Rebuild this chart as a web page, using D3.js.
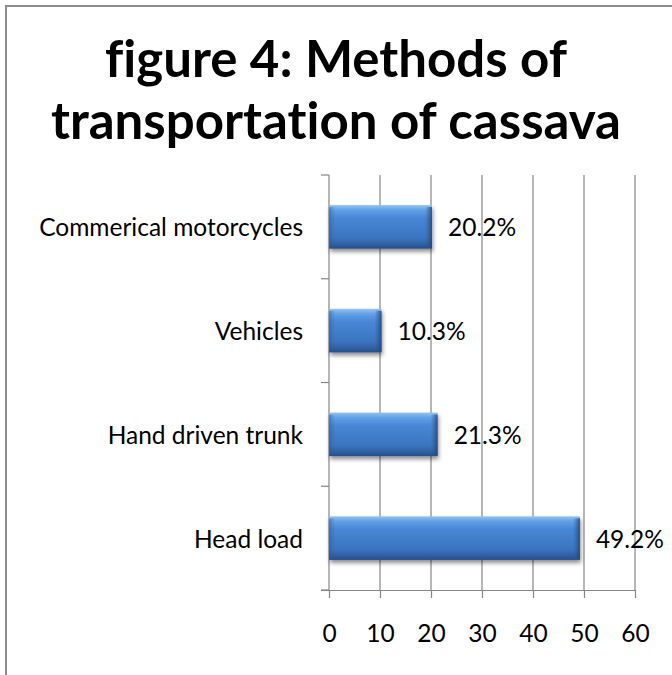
<!DOCTYPE html>
<html>
<head>
<meta charset="utf-8">
<script src="https://cdn.jsdelivr.net/npm/d3@7"></script>
<style>
  html, body { margin: 0; padding: 0; background: #fff; }
  svg { display: block; }
  text { font-family: Lato, "Open Sans", sans-serif; fill: #000; font-variant-ligatures: none; font-feature-settings: "liga" 0, "clig" 0; }
</style>
</head>
<body>
<svg id="chart" width="672" height="675"></svg>
<script>
// ---- data ----
const categories = ["Commerical motorcycles", "Vehicles", "Hand driven trunk", "Head load"];
const values = [20.2, 10.3, 21.3, 49.2];
const valueLabels = ["20.2%", "10.3%", "21.3%", "49.2%"];
const xTicks = [0, 10, 20, 30, 40, 50, 60];
const titleLines = ["figure 4: Methods of", "transportation of cassava"];

const svg = d3.select("#chart");
const W = 672, H = 675;
const plot = { left: 329, right: 635, top: 175, bottom: 590 };
const labelSize = "24.5px";

// defs
const defs = svg.append("defs");
const gV = defs.append("linearGradient").attr("id", "barV").attr("x1", 0).attr("y1", 0).attr("x2", 0).attr("y2", 1);
gV.append("stop").attr("offset", "0%").attr("stop-color", "#93c4f4");
gV.append("stop").attr("offset", "12%").attr("stop-color", "#609fe6");
gV.append("stop").attr("offset", "30%").attr("stop-color", "#4886d4");
gV.append("stop").attr("offset", "75%").attr("stop-color", "#3b75c0");
gV.append("stop").attr("offset", "90%").attr("stop-color", "#2f61a2");
gV.append("stop").attr("offset", "100%").attr("stop-color", "#244e87");
const gE = defs.append("linearGradient").attr("id", "barEnd").attr("x1", 0).attr("y1", 0).attr("x2", 1).attr("y2", 0);
gE.append("stop").attr("offset", "0%").attr("stop-color", "#2c5a96").attr("stop-opacity", 0);
gE.append("stop").attr("offset", "100%").attr("stop-color", "#1f4678").attr("stop-opacity", 0.85);
const gL = defs.append("linearGradient").attr("id", "barStart").attr("x1", 0).attr("y1", 0).attr("x2", 1).attr("y2", 0);
gL.append("stop").attr("offset", "0%").attr("stop-color", "#2c5a96").attr("stop-opacity", 0.5);
gL.append("stop").attr("offset", "100%").attr("stop-color", "#2c5a96").attr("stop-opacity", 0);
const sh = defs.append("filter").attr("id", "shadow").attr("x", "-10%").attr("y", "-20%").attr("width", "130%").attr("height", "160%");
sh.append("feDropShadow").attr("dx", 1).attr("dy", 3).attr("stdDeviation", 2.2).attr("flood-color", "#000").attr("flood-opacity", 0.45);

// frame border (left & top visible)
svg.append("line").attr("x1", 6).attr("x2", 6).attr("y1", 5).attr("y2", H).attr("stroke", "#8c8c8c").attr("stroke-width", 2);
svg.append("line").attr("x1", 5).attr("x2", W).attr("y1", 6).attr("y2", 6).attr("stroke", "#8c8c8c").attr("stroke-width", 2);

// title
const title = svg.append("text").attr("text-anchor", "middle").style("font-weight", "bold").style("font-size", "51px");
title.selectAll("tspan").data(titleLines).join("tspan")
  .attr("x", 336).attr("y", (d, i) => 77 + i * 62).text(d => d);

// scales
const x = d3.scaleLinear().domain([0, 60]).range([plot.left, plot.right]);
const y = d3.scaleBand().domain(categories).range([plot.top, plot.bottom]).paddingInner(0.58).paddingOuter(0.29);
const band = d3.scaleBand().domain(categories).range([plot.top, plot.bottom]);

const gridColor = "#868686";
// vertical gridlines
svg.append("g").selectAll("line").data(xTicks.slice(1)).join("line")
  .attr("x1", d => x(d)).attr("x2", d => x(d)).attr("y1", plot.top).attr("y2", plot.bottom)
  .attr("stroke", gridColor).attr("stroke-width", 1.2);

// bottom axis
const xAxis = svg.append("g").attr("transform", `translate(0,${plot.bottom})`)
  .call(d3.axisBottom(x).tickValues(xTicks).tickSize(8).tickPadding(27).tickSizeOuter(0));
xAxis.select(".domain").attr("stroke", gridColor).attr("stroke-width", 1.2).attr("d", `M${plot.left - 8},0.5H${plot.right}`);
xAxis.selectAll(".tick line").attr("stroke", gridColor).attr("stroke-width", 1.2);
xAxis.selectAll(".tick text").style("font-size", labelSize).style("font-family", "Lato, 'Open Sans', sans-serif").attr("fill", "#000");

// left axis line + category separator ticks
svg.append("line").attr("x1", plot.left).attr("x2", plot.left).attr("y1", plot.top).attr("y2", plot.bottom)
  .attr("stroke", gridColor).attr("stroke-width", 1.2);
const seps = categories.map(c => band(c)).concat([plot.bottom]);
svg.append("g").selectAll("line").data(seps).join("line")
  .attr("x1", plot.left - 8).attr("x2", plot.left).attr("y1", d => d).attr("y2", d => d)
  .attr("stroke", gridColor).attr("stroke-width", 1.2);

// category labels
svg.append("g").selectAll("text").data(categories).join("text")
  .attr("x", plot.left - 26).attr("y", d => y(d) + y.bandwidth() / 2)
  .attr("text-anchor", "end").attr("dominant-baseline", "central")
  .style("font-size", labelSize).text(d => d);

// bars
const bars = svg.append("g").selectAll("g").data(values).join("g");
bars.append("rect")
  .attr("x", x(0)).attr("y", (d, i) => y(categories[i]))
  .attr("width", d => x(d) - x(0)).attr("height", y.bandwidth())
  .attr("fill", "url(#barV)").attr("filter", "url(#shadow)");
bars.append("rect")
  .attr("x", d => x(d) - 7).attr("y", (d, i) => y(categories[i]) + 2)
  .attr("width", 7).attr("height", y.bandwidth() - 3)
  .attr("fill", "url(#barEnd)");
bars.append("rect")
  .attr("x", x(0)).attr("y", (d, i) => y(categories[i]) + 2)
  .attr("width", 6).attr("height", y.bandwidth() - 3)
  .attr("fill", "url(#barStart)");

// value labels
svg.append("g").selectAll("text").data(values).join("text")
  .attr("x", d => x(d) + 16).attr("y", (d, i) => y(categories[i]) + y.bandwidth() / 2)
  .attr("dominant-baseline", "central").style("font-size", labelSize)
  .text((d, i) => valueLabels[i]);
</script>
</body>
</html>
